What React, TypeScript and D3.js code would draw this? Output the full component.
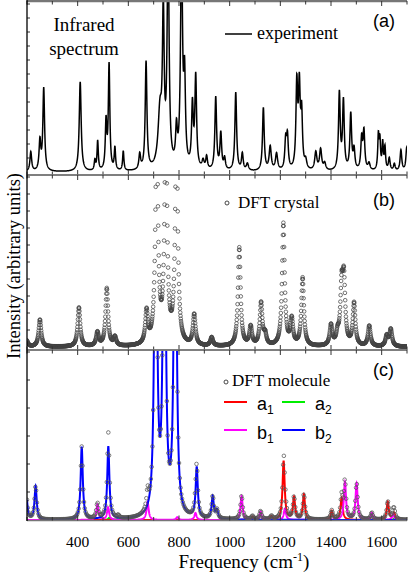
import React, { useEffect } from 'react'
import * as d3 from 'd3'

type Peak = [number, number, number] // [frequency cm-1, amplitude (a.u.), half width]

const FREQ_MIN = 200, FREQ_MAX = 1700
const tickFreqs = [200, 300, 400, 500, 600, 700, 800, 900, 1000, 1100, 1200, 1300, 1400, 1500, 1600, 1700]
const labelFreqs = [400, 600, 800, 1000, 1200, 1400, 1600]

// (a) measured infrared spectrum
const experimentPeaks: Peak[] = [
  [215, 1.4, 4], [251, 2.1, 4], [266, 5.9, 4], [410, 6.4, 4.5], [468, 0.7, 3], [479, 2.1, 3],
  [512, 3.4, 3.5], [524, 7.5, 3.5], [547, 1.6, 3], [580, 1.4, 3], [645, 1.1, 4], [670, 7.7, 4],
  [725, 4.0, 9], [738, 10.5, 4], [757, 16, 4.5], [790, 2.5, 4], [810, 16, 4.5], [822, 6.0, 4],
  [853, 4.4, 4], [866, 6.5, 4], [895, 0.6, 5], [909, 0.9, 4], [945, 5.2, 4], [965, 2.6, 4],
  [980, 0.8, 4], [1024, 5.6, 4], [1050, 1.2, 4], [1070, 0.5, 5], [1133, 4.5, 4], [1160, 1.7, 5],
  [1185, 1.2, 5], [1221, 2.0, 4], [1228, 2.3, 4], [1265, 6.0, 4], [1275, 5.6, 4], [1284, 3.8, 4],
  [1300, 0.6, 5], [1340, 1.3, 5], [1359, 1.5, 5], [1375, 0.5, 5], [1433, 5.5, 4], [1449, 4.9, 4],
  [1478, 4.0, 4], [1491, 1.4, 4], [1521, 2.2, 4], [1530, 2.7, 4], [1550, 0.5, 5], [1587, 2.4, 3],
  [1593, 2.0, 3], [1604, 1.9, 3], [1613, 1.6, 3], [1630, 0.9, 4], [1650, 0.5, 4], [1676, 1.5, 4],
  [1699, 1.7, 4],
]

// (b) DFT crystal
const crystalPeaks: Peak[] = [
  [198, 0.4, 6], [251, 1.6, 6], [405, 2.3, 6], [478, 0.8, 6], [515, 3.4, 6], [547, 0.5, 6],
  [672, 1.9, 6], [712, 13, 6], [748, 13, 6], [790, 13, 6], [860, 1.8, 6], [929, 0.5, 6],
  [1038, 5.8, 6], [1083, 1.1, 6], [1124, 2.5, 6], [1140, 0.6, 6], [1212, 7.2, 6], [1245, 1.5, 6],
  [1288, 4.0, 6], [1400, 1.2, 6], [1426, 0.6, 6], [1442, 3.2, 6], [1451, 3.6, 6], [1491, 2.5, 6],
  [1551, 1.2, 6], [1620, 0.6, 6], [1636, 1.0, 6],
]

// (c) DFT molecule, by symmetry
const a1Peaks: Peak[] = [
  [1090, 0.12, 5], [1165, 0.12, 5], [1213, 2.1, 5], [1254, 0.8, 5], [1293, 0.9, 5],
  [1403, 0.32, 5], [1442, 0.8, 5], [1624, 0.65, 5], [1649, 0.25, 5],
]
const a2Peaks: Peak[] = [[525, 0.08, 5], [560, 0.1, 5], [1650, 0.05, 5]]
const b1Peaks: Peak[] = [
  [478, 0.55, 5], [520, 0.45, 5], [676, 0.65, 5], [793, 0.1, 5], [865, 0.25, 5], [1047, 0.85, 5],
  [1122, 0.3, 5], [1218, 0.4, 5], [1455, 1.35, 5], [1501, 1.3, 5], [1561, 0.25, 5], [1645, 0.2, 5],
]
const b2Peaks: Peak[] = [
  [198, 0.8, 5], [234, 1.2, 5], [416, 2.6, 5], [521, 2.6, 5], [708, 18, 5], [742, 18, 5],
  [785, 18, 5], [870, 1.8, 5], [933, 0.8, 5], [950, 0.3, 5],
]

const yTicksA = [1, 2, 3, 4, 5, 6, 7, 8, 9, 10, 11, 12]
const yTicksB = [1, 2, 3, 4, 5, 6, 7, 8, 9, 10]
const yTicksC = [1, 2, 3, 4, 5, 6]

const spectrum = (peaks: Peak[], f: number) =>
  peaks.reduce((s, [c, a, g]) => s + a * g * g / ((f - c) * (f - c) + g * g), 0)
const grid = (step: number) => d3.range(FREQ_MIN, FREQ_MAX + step / 2, step)

const serif = 'Liberation Serif, Times New Roman, serif'
const sans = 'Liberation Sans, Arial, sans-serif'

export default function App() {
  useEffect(() => { document.body.style.margin = '0' }, [])

  const x = d3.scaleLinear().domain([FREQ_MIN, FREQ_MAX]).range([27, 407])
  const panels = [
    { id: 'a', top: 1, bottom: 175, y: d3.scaleLinear().domain([0, 12]).range([172, 4]), ticks: yTicksA },
    { id: 'b', top: 175, bottom: 350, y: d3.scaleLinear().domain([0, 10]).range([347, 177]), ticks: yTicksB },
    { id: 'c', top: 350, bottom: 520.5, y: d3.scaleLinear().domain([0, 6]).range([520, 352]), ticks: yTicksC },
  ]
  const [pA, pB, pC] = panels

  const fine = grid(0.5)
  const lineFor = (peaks: Peak[], y: d3.ScaleLinear<number, number>) =>
    d3.line<number>().x(f => x(f)).y(f => y(spectrum(peaks, f)))(fine) || ''

  const expPath = lineFor(experimentPeaks, pA.y)
  const crystalPts = grid(1).map(f => [x(f), pB.y(spectrum(crystalPeaks, f))])
  const allMol = [...a1Peaks, ...a2Peaks, ...b1Peaks, ...b2Peaks]
  const molPts = grid(3).map(f => [x(f), pC.y(spectrum(allMol, f))])

  const components = [
    { peaks: a2Peaks, color: '#00ee00' },
    { peaks: a1Peaks, color: '#ff0000' },
    { peaks: b1Peaks, color: '#ff00ff' },
    { peaks: b2Peaks, color: '#0000ff' },
  ]

  return (
    <svg width={409} height={576} style={{ display: 'block' }}>
      <defs>
        {panels.map(p => (
          <clipPath id={'clip-' + p.id} key={p.id}>
            <rect x={27} y={p.top + 0.5} width={380} height={p.bottom - p.top - 1} />
          </clipPath>
        ))}
      </defs>
      <rect width={409} height={576} fill="#fff" />

      {/* (a) experiment */}
      <path d={expPath} fill="none" stroke="#000" strokeWidth={1.5} clipPath="url(#clip-a)" />

      {/* (b) crystal */}
      <g clipPath="url(#clip-b)">
        {crystalPts.map(([cx, cy], i) => (
          <circle key={i} cx={cx} cy={cy} r={1.8} fill="none" stroke="#444" strokeWidth={0.75} />
        ))}
      </g>

      {/* (c) molecule */}
      <g clipPath="url(#clip-c)">
        {components.map((c, i) => (
          <path key={i} d={lineFor(c.peaks, pC.y)} fill="none" stroke={c.color} strokeWidth={2} />
        ))}
        {molPts.map(([cx, cy], i) => (
          <circle key={i} cx={cx} cy={cy} r={1.8} fill="none" stroke="#555" strokeWidth={0.75} />
        ))}
      </g>

      {/* frames and ticks */}
      {panels.map(p => (
        <g key={p.id}>
          <line x1={27} x2={407} y1={p.top} y2={p.top} stroke="#777" strokeWidth={p.id === 'a' ? 2.5 : 1.3} />
          <line x1={27} x2={407} y1={p.bottom} y2={p.bottom} stroke="#777" strokeWidth={1.3} />
          {tickFreqs.map(f => {
            const len = labelFreqs.includes(f) ? 5 : 3.5
            return (
              <g key={f}>
                <line x1={x(f)} x2={x(f)} y1={p.top} y2={p.top + len} stroke="#333" strokeWidth={1} />
                <line x1={x(f)} x2={x(f)} y1={p.bottom} y2={p.bottom - len} stroke="#333" strokeWidth={1} />
              </g>
            )
          })}
          {p.ticks.map(t => (
            <line key={t} x1={27} x2={30} y1={p.y(t)} y2={p.y(t)} stroke="#333" strokeWidth={1} />
          ))}
        </g>
      ))}
      <line x1={27} x2={27} y1={0} y2={521} stroke="#000" strokeWidth={1.3} />

      {/* x tick labels */}
      {labelFreqs.map(f => (
        <text key={f} x={x(f)} y={547} textAnchor="middle" fontFamily={serif} fontSize={15.5}>{f}</text>
      ))}
      <text x={244} y={568} textAnchor="middle" fontFamily={serif} fontSize={19}>
        Frequency (cm<tspan dy={-7} fontSize={12}>-1</tspan><tspan dy={7}>)</tspan>
      </text>
      <text transform="translate(20,266) rotate(-90)" textAnchor="middle" fontFamily={serif} fontSize={18.5}>
        Intensity (arbitrary units)
      </text>

      {/* panel (a) annotations */}
      <text x={84} y={31} textAnchor="middle" fontFamily={serif} fontSize={19}>Infrared</text>
      <text x={84} y={55} textAnchor="middle" fontFamily={serif} fontSize={19}>spectrum</text>
      <line x1={225} x2={252} y1={34} y2={34} stroke="#000" strokeWidth={1.5} />
      <text x={257} y={39} fontFamily={serif} fontSize={18}>experiment</text>
      <text x={373} y={27} fontFamily={sans} fontSize={18}>(a)</text>

      {/* panel (b) annotations */}
      <circle cx={227} cy={203} r={2} fill="none" stroke="#333" strokeWidth={0.9} />
      <text x={238} y={208} fontFamily={serif} fontSize={17}>DFT crystal</text>
      <text x={373} y={206} fontFamily={sans} fontSize={18}>(b)</text>

      {/* panel (c) annotations */}
      <circle cx={226} cy={382} r={2} fill="none" stroke="#333" strokeWidth={0.9} />
      <text x={232} y={386} fontFamily={serif} fontSize={17}>DFT molecule</text>
      <text x={373} y={376} fontFamily={sans} fontSize={18}>(c)</text>
      {[
        { label: 'a', sub: '1', color: '#ff0000', lx: 224, ly: 402, tx: 257, ty: 410 },
        { label: 'a', sub: '2', color: '#00ee00', lx: 282, ly: 402, tx: 315, ty: 410 },
        { label: 'b', sub: '1', color: '#ff00ff', lx: 224, ly: 430, tx: 257, ty: 439 },
        { label: 'b', sub: '2', color: '#0000ff', lx: 282, ly: 430, tx: 315, ty: 439 },
      ].map((d, i) => (
        <g key={i}>
          <line x1={d.lx} x2={d.lx + 23} y1={d.ly} y2={d.ly} stroke={d.color} strokeWidth={2} />
          <text x={d.tx} y={d.ty} fontFamily={sans} fontSize={18}>
            {d.label}<tspan dy={4} fontSize={12}>{d.sub}</tspan>
          </text>
        </g>
      ))}
    </svg>
  )
}
